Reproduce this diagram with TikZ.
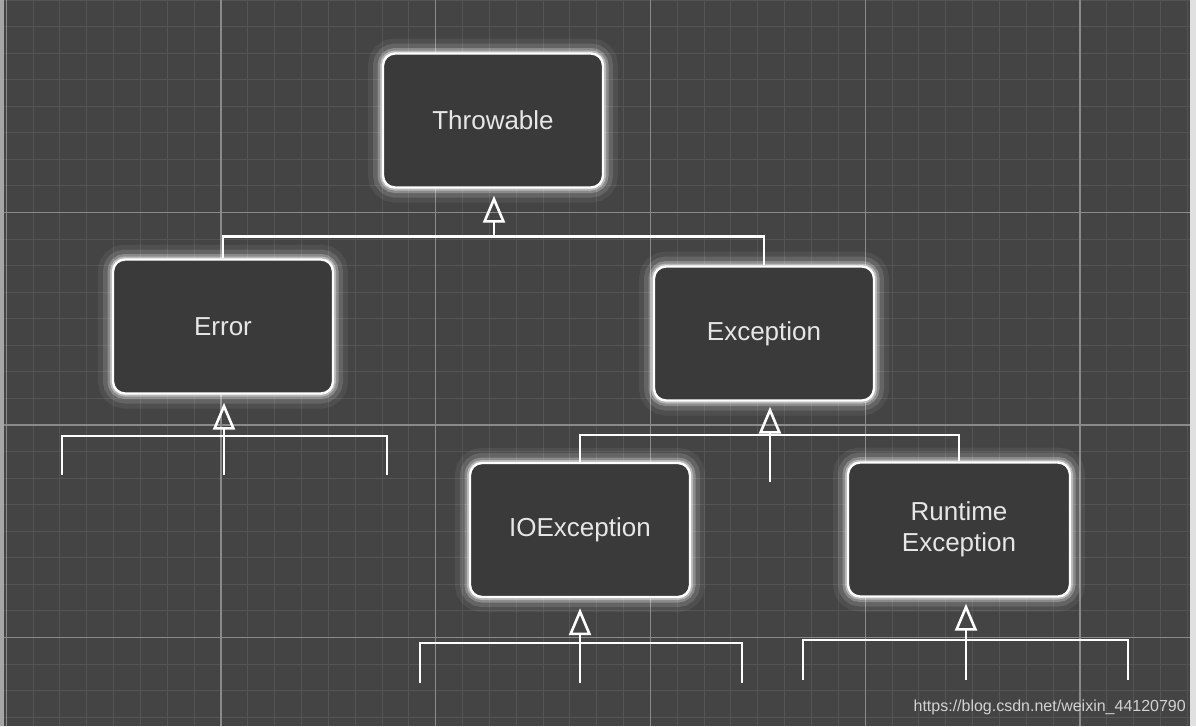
\documentclass[tikz,border=0pt]{standalone}
\usepackage{fontspec}
\setmainfont{Liberation Sans}
\usetikzlibrary{arrows.meta}
\definecolor{bg}{HTML}{444444}
\definecolor{minorgrid}{HTML}{545454}
\definecolor{majorgrid}{HTML}{8A8A8A}
\definecolor{boxfill}{HTML}{3A3A3A}
\definecolor{txt}{HTML}{E6E6E6}
\definecolor{wmcol}{HTML}{D2D2D2}
\begin{document}
\begin{tikzpicture}[x=1pt,y=-1pt,
  classbox/.style={rectangle, rounded corners=12pt, minimum width=220pt, minimum height=134pt,
    fill=boxfill, draw=white, line width=2.4pt, text=txt, align=center,
    font=\fontsize{26}{31}\selectfont,
    preaction={draw=white, line width=30pt, opacity=0.06},
    preaction={draw=white, line width=20pt, opacity=0.12},
    preaction={draw=white, line width=11pt, opacity=0.25},
    preaction={draw=white, line width=6pt, opacity=0.4}},
  conn/.style={draw=white, line width=2.4pt},
  inh/.style={conn, -{Triangle[open, length=27pt, width=22pt, line width=2.6pt]}}]
\useasboundingbox (0,0) rectangle (1196,726);
% background and grid
\fill[bg] (0,0) rectangle (1196,726);
\foreach \i in {0,...,44} \draw[minorgrid, line width=0.9pt] ({6.25+26.84*\i},0) -- ++(0,726);
\foreach \i in {0,...,27} \draw[minorgrid, line width=0.9pt] (0,{26.56*\i}) -- ++(1196,0);
\foreach \i in {0,...,5} \draw[majorgrid, line width=1.1pt] ({6.25+214.75*\i},0) -- ++(0,726);
\foreach \i in {1,...,3} \draw[majorgrid, line width=1.1pt] (0,{212.5*\i}) -- ++(1196,0);
\fill[gray!70] (0,0) rectangle (4,726);
\fill[white!88!black] (1190,0) rectangle (1196,726);

% class boxes
\node[classbox] (throwable) at (493,120.5) {Throwable};
\node[classbox] (error) at (223,326.5) {Error};
\node[classbox] (exception) at (764,333.5) {Exception};
\node[classbox] (ioex) at (580,530) {IOException};
\node[classbox, minimum width=222pt] (rtex) at (959,529.5) {Runtime\\Exception};

% Throwable hierarchy
\coordinate (tj) at (494,238);
\draw[conn] (error.north) -- ++(0,-22) -| (exception.north);
\draw[inh, shorten >=7pt] (tj) -- (throwable.south -| tj);

% Exception hierarchy
\coordinate (xs) at (770,482);
\draw[conn] (ioex.north) -- ++(0,-27) -| (rtex.north);
\draw[inh, shorten >=5pt] (xs) -- (exception.south -| xs);

% Error subclasses (open)
\coordinate (e1) at (62,475);
\coordinate (e2) at (387,475);
\coordinate (es) at (224,475);
\draw[conn] (e1) -- ++(0,-39) -| (e2);
\draw[inh, shorten >=8pt] (es) -- (error.south -| es);

% IOException subclasses (open)
\coordinate (i1) at (420,683);
\coordinate (i2) at (742,683);
\coordinate (is) at (580,683);
\draw[conn] (i1) -- ++(0,-40) -| (i2);
\draw[inh, shorten >=10pt] (is) -- (ioex.south -| is);

% RuntimeException subclasses (open)
\coordinate (r1) at (803,680);
\coordinate (r2) at (1128,680);
\coordinate (rs) at (966,680);
\draw[conn] (r1) -- ++(0,-40) -| (r2);
\draw[inh, shorten >=6pt] (rs) -- (rtex.south -| rs);

% watermark
\node[anchor=base east, text=wmcol, font=\fontsize{16}{19}\selectfont, inner sep=0pt] (wm) at (1186,711) {https://blog.csdn.net/weixin\_44120790};
\end{tikzpicture}
\end{document}
